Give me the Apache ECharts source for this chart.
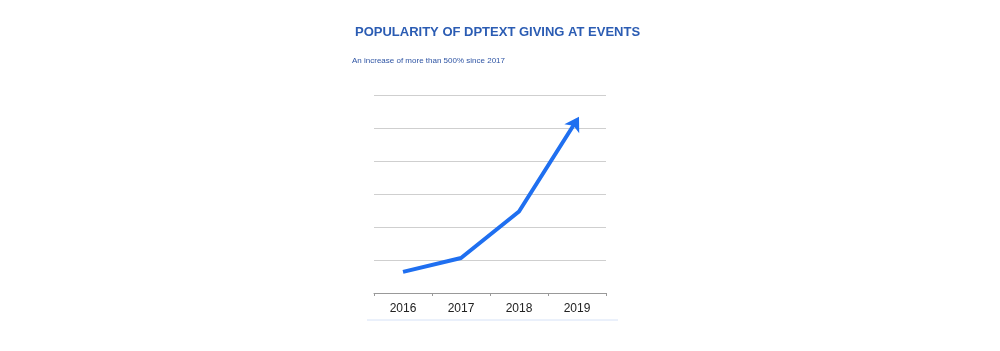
<!DOCTYPE html>
<html><head><meta charset="utf-8">
<script src="https://cdn.jsdelivr.net/npm/echarts@6/dist/echarts.min.js"></script>
<style>html,body{margin:0;padding:0;background:#fff}#c{width:1000px;height:351px}</style>
</head><body><div id="c"></div>
<script>
const categories = ['2016', '2017', '2018', '2019'];
const values = [0.64, 1.06, 2.47, 5.25];
const chartTitle = 'POPULARITY OF DPTEXT GIVING AT EVENTS';
const chartSubtitle = 'An increase of more than 500% since 2017';

const chart = echarts.init(document.getElementById('c'));
const data = values.map((v, i) => i === values.length - 1
  ? { value: v, symbol: 'arrow', symbolSize: [13, 14], symbolRotate: -31, symbolOffset: [2, -3] }
  : { value: v, symbol: 'none' });
chart.setOption({
  animation: false,
  title: [
    { text: chartTitle, left: 355, top: 26, padding: 0,
      textStyle: { fontFamily: 'Liberation Sans', fontWeight: 'bold', fontSize: 13, color: '#2b5cb3' } },
    { text: chartSubtitle, left: 352, top: 57, padding: 0,
      textStyle: { fontFamily: 'Liberation Sans', fontWeight: 'normal', fontSize: 8, color: '#2f55a4' } }
  ],
  grid: { left: 374, right: 394, top: 95, bottom: 58 },
  xAxis: {
    type: 'category', data: categories, boundaryGap: true,
    axisLine: { lineStyle: { color: '#999', width: 1 } },
    axisTick: { show: true, length: 3, lineStyle: { color: '#999' } },
    axisLabel: { margin: 10, fontFamily: 'Liberation Sans', fontSize: 12, color: '#222' }
  },
  yAxis: {
    type: 'value', min: 0, max: 6, interval: 1,
    axisLabel: { show: false }, axisLine: { show: false }, axisTick: { show: false },
    splitLine: { lineStyle: { color: '#cfcfcf', width: 1 } }
  },
  series: [{
    type: 'line', data: data, showSymbol: true, showAllSymbol: true,
    lineStyle: { color: '#1f6ff0', width: 4 },
    itemStyle: { color: '#1f6ff0' },
    z: 3
  }],
  graphic: [
    { type: 'line', shape: { x1: 367, y1: 320, x2: 618, y2: 320 },
      style: { stroke: '#d6e2f7', lineWidth: 1 } }
  ]
});
</script></body></html>
